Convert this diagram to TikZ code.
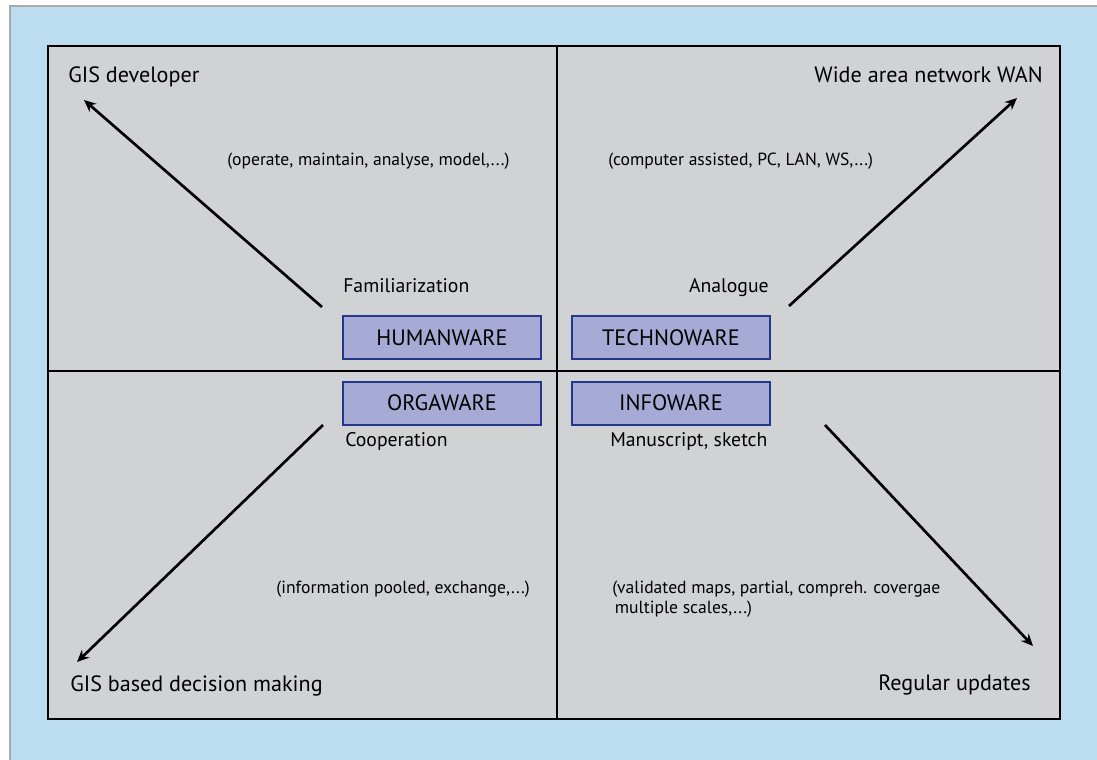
\documentclass[tikz,border=0pt]{standalone}
\usepackage{fontspec}
\setmainfont{PT Sans}
\usetikzlibrary{arrows.meta}
\definecolor{panelblue}{RGB}{188,220,240}
\definecolor{framegray}{RGB}{170,170,172}
\definecolor{fieldgray}{RGB}{209,210,212}
\definecolor{wareblue}{RGB}{167,170,212}
\definecolor{wareedge}{RGB}{35,55,140}
\begin{document}
\begin{tikzpicture}[x=0.75pt,y=-0.75pt,
  ware/.style={draw=wareedge,line width=1.5pt,fill=wareblue,minimum width=148.5pt,
    minimum height=32.25pt,inner sep=0pt,font=\fontsize{16.7}{19}\selectfont},
  corner/.style={inner sep=0pt,font=\fontsize{16.6}{19}\selectfont},
  stage/.style={inner sep=0pt,font=\fontsize{14.8}{17}\selectfont},
  note/.style={inner sep=0pt,font=\fontsize{13.2}{15}\selectfont},
  trend/.style={line width=2pt,-{Stealth[length=9pt,width=8pt,inset=3pt]}}]
\useasboundingbox (0,0) rectangle (1097,760);
\fill[white] (0,0) rectangle (1097,760);
\fill[panelblue] (10,6) rectangle (1097,760);
\draw[framegray,line width=1.5pt] (10,760) -- (10,6) -- (1097,6);
\draw[fill=fieldgray,line width=1.5pt] (48,46) rectangle (1060,719);
\draw[line width=1.5pt] (557,46) -- (557,719);
\draw[line width=1.5pt] (48,371) -- (1060,371);
\node[ware] (human) at (442,337.5) {HUMANWARE};
\node[ware] (techno) at (671,337.5) {TECHNOWARE\hspace{12pt}};
\node[ware] (orga) at (442,403) {ORGAWARE};
\node[ware] (info) at (671,403) {INFOWARE\hspace{12pt}};
\node[corner,anchor=base west] (gisdev) at (68,82) {GIS developer};
\node[corner,anchor=base east] (wan) at (1043,82) {Wide area network WAN};
\node[corner,anchor=base west] (gisdec) at (70,691) {GIS based decision making};
\node[corner,anchor=base east] (updates) at (1031,690) {Regular updates};
\node[stage,anchor=base west] (famil) at (343,292) {Familiarization};
\node[stage,anchor=base east] (analog) at (769,292) {Analogue};
\node[stage,anchor=base west] (coop) at (345,446) {Cooperation};
\node[stage,anchor=base west] (manu) at (610,446) {Manuscript, sketch};
\node[note,anchor=base west] (operate) at (227,165) {(operate, maintain, analyse, model,...)};
\node[note,anchor=base west] (computer) at (608,165) {(computer assisted, PC, LAN, WS,...)};
\node[note,anchor=base east] (pooled) at (530,593) {(information pooled, exchange,...)};
\node[note,anchor=north west,align=left] (validated) at (612,581)
  {(validated maps, partial, compreh. covergae\\\hspace{2pt}multiple scales,...)};
\coordinate (tl tail) at (322,307);
\coordinate (tl head) at (84,100);
\coordinate (tr tail) at (789,306);
\coordinate (tr head) at (1017,98);
\coordinate (bl tail) at (323,425);
\coordinate (bl head) at (77,662);
\coordinate (br tail) at (825,425);
\coordinate (br head) at (1033,646);
\draw[trend] (tl tail) -- (tl head);
\draw[trend] (tr tail) -- (tr head);
\draw[trend] (bl tail) -- (bl head);
\draw[trend] (br tail) -- (br head);
\end{tikzpicture}
\end{document}
